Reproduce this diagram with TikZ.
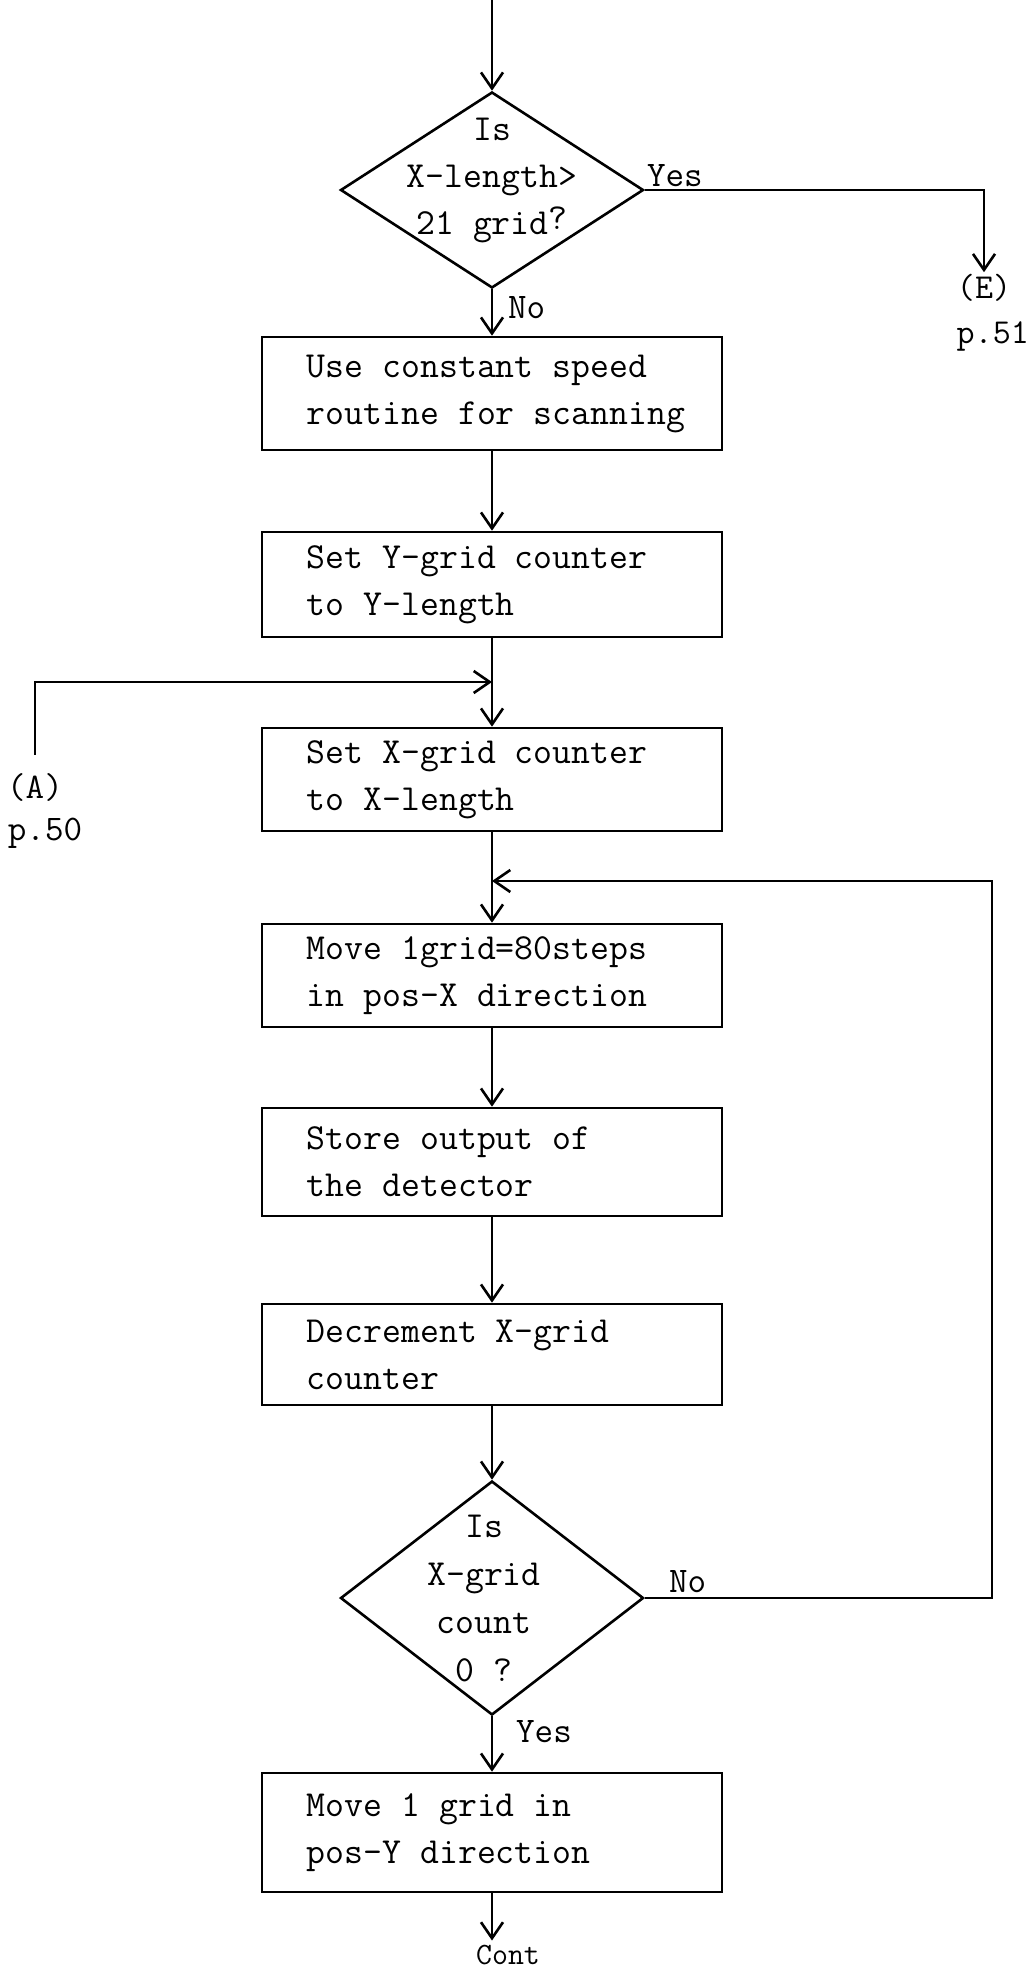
\documentclass[tikz,border=0pt]{standalone}
\usepackage{fontspec}
\usetikzlibrary{arrows.meta,shapes.geometric}
\begin{document}
\begin{tikzpicture}[x=1pt,y=-1pt,
  flowbox/.style={draw, line width=2.6pt, minimum width=460pt, inner sep=0pt},
  boxtxt/.style={font=\fontsize{36.7}{47}\selectfont\ttfamily, align=left, inner sep=0pt, anchor=west},
  dec/.style={draw, shape=diamond, line width=2.6pt, minimum width=303pt, inner sep=0pt},
  dectxt/.style={font=\fontsize{36.7}{47}\selectfont\ttfamily, align=center, inner sep=0pt},
  lbl/.style={font=\fontsize{36}{36}\selectfont\ttfamily, inner sep=0pt},
  reflbl/.style={font=\fontsize{35}{35}\selectfont\ttfamily, inner sep=2pt},
  conn/.style={line width=2.6pt, -{Straight Barb[length=16pt,width=22pt]}}
]
\fill[white] (0,0) rectangle (1031,1970);
\useasboundingbox (0,0) rectangle (1031,1970);

% decision 1
\coordinate (top) at (492,0);
\node[dec, minimum height=196pt] (d1) at (492,190) {};
\node[dectxt] (d1t) at (492,180) {Is\\X-length>\\21 grid\raisebox{5pt}{?}};

% boxes
\node[flowbox, minimum height=113pt] (b1) at (492,393.5) {};
\node[boxtxt] (b1t) at ([xshift=46pt]b1.west) {Use constant speed\\routine for scanning};

\node[flowbox, minimum height=105pt] (b2) at (492,584.5) {};
\node[boxtxt] (b2t) at ([xshift=46pt]b2.west) {Set Y-grid counter\\to Y-length};

\node[flowbox, minimum height=103pt] (b3) at (492,779.5) {};
\node[boxtxt] (b3t) at ([xshift=46pt]b3.west) {Set X-grid counter\\to X-length};

\node[flowbox, minimum height=103pt] (b4) at (492,975.5) {};
\node[boxtxt] (b4t) at ([xshift=46pt]b4.west) {Move 1grid=80steps\\in pos-X direction};

\node[flowbox, minimum height=108pt] (b5) at (492,1162) {};
\node[boxtxt] (b5t) at ([xshift=46pt]b5.west) {Store output of\\the detector};

\node[flowbox, minimum height=101pt] (b6) at (492,1354.5) {};
\node[boxtxt] (b6t) at ([xshift=46pt]b6.west) {Decrement X-grid\\counter};

% decision 2
\node[dec, minimum height=234pt] (d2) at (492,1598) {};
\node[dectxt, font=\fontsize{36.7}{48}\selectfont\ttfamily] (d2t) at (484,1598) {Is\\X-grid\\count\\0 ?};

\node[flowbox, minimum height=119pt] (b7) at (492,1832.5) {};
\node[boxtxt] (b7t) at ([xshift=46pt]b7.west) {Move 1 grid in\\pos-Y direction};

\node[lbl, font=\fontsize{31}{31}\selectfont\ttfamily, inner sep=4pt, anchor=base] (cont) at (508,1964) {Cont};

% off-page references
\node[reflbl] (lblE) at (984,288) {(E)};
\node[reflbl, anchor=east] (lblEp) at (1031,336) {p.51};
\node[reflbl, font=\fontsize{36}{36}\selectfont\ttfamily, inner sep=4pt] (lblA) at (35,787) {(A)};
\node[reflbl, font=\fontsize{36}{36}\selectfont\ttfamily] (lblAp) at (45,833) {p.50};

% junctions
\coordinate (j1) at (492,682);
\coordinate (j2) at (492,881);
\coordinate (rc) at (992,881);

% connectors
\draw[conn] (top) -- (d1.north);
\draw[conn] (d1.south) -- (b1.north);
\draw[conn] (d1.east) -| (lblE.north);
\draw[conn] (b1.south) -- (b2.north);
\draw[conn] (b2.south) -- (b3.north);
\draw[conn] ([yshift=14pt]lblA.north) |- (j1);
\draw[conn] (b3.south) -- (b4.north);
\draw[conn] (d2.east) -| (rc) -- (j2);
\draw[conn] (b4.south) -- (b5.north);
\draw[conn] (b5.south) -- (b6.north);
\draw[conn] (b6.south) -- (d2.north);
\draw[conn] (d2.south) -- (b7.north);
\draw[conn] (b7.south) -- (b7.south |- cont.north);

% branch labels
\node[lbl, anchor=south west] (yes1) at ([xshift=2pt,yshift=3pt]d1.east) {Yes};
\node[lbl, anchor=north west] (no1) at ([xshift=16pt,yshift=-7pt]d1.south) {No};
\node[lbl, anchor=south west] (no2) at ([xshift=24pt,yshift=5pt]d2.east) {No};
\node[lbl, anchor=north west] (yes2) at ([xshift=24pt,yshift=-4pt]d2.south) {Yes};
\end{tikzpicture}
\end{document}
